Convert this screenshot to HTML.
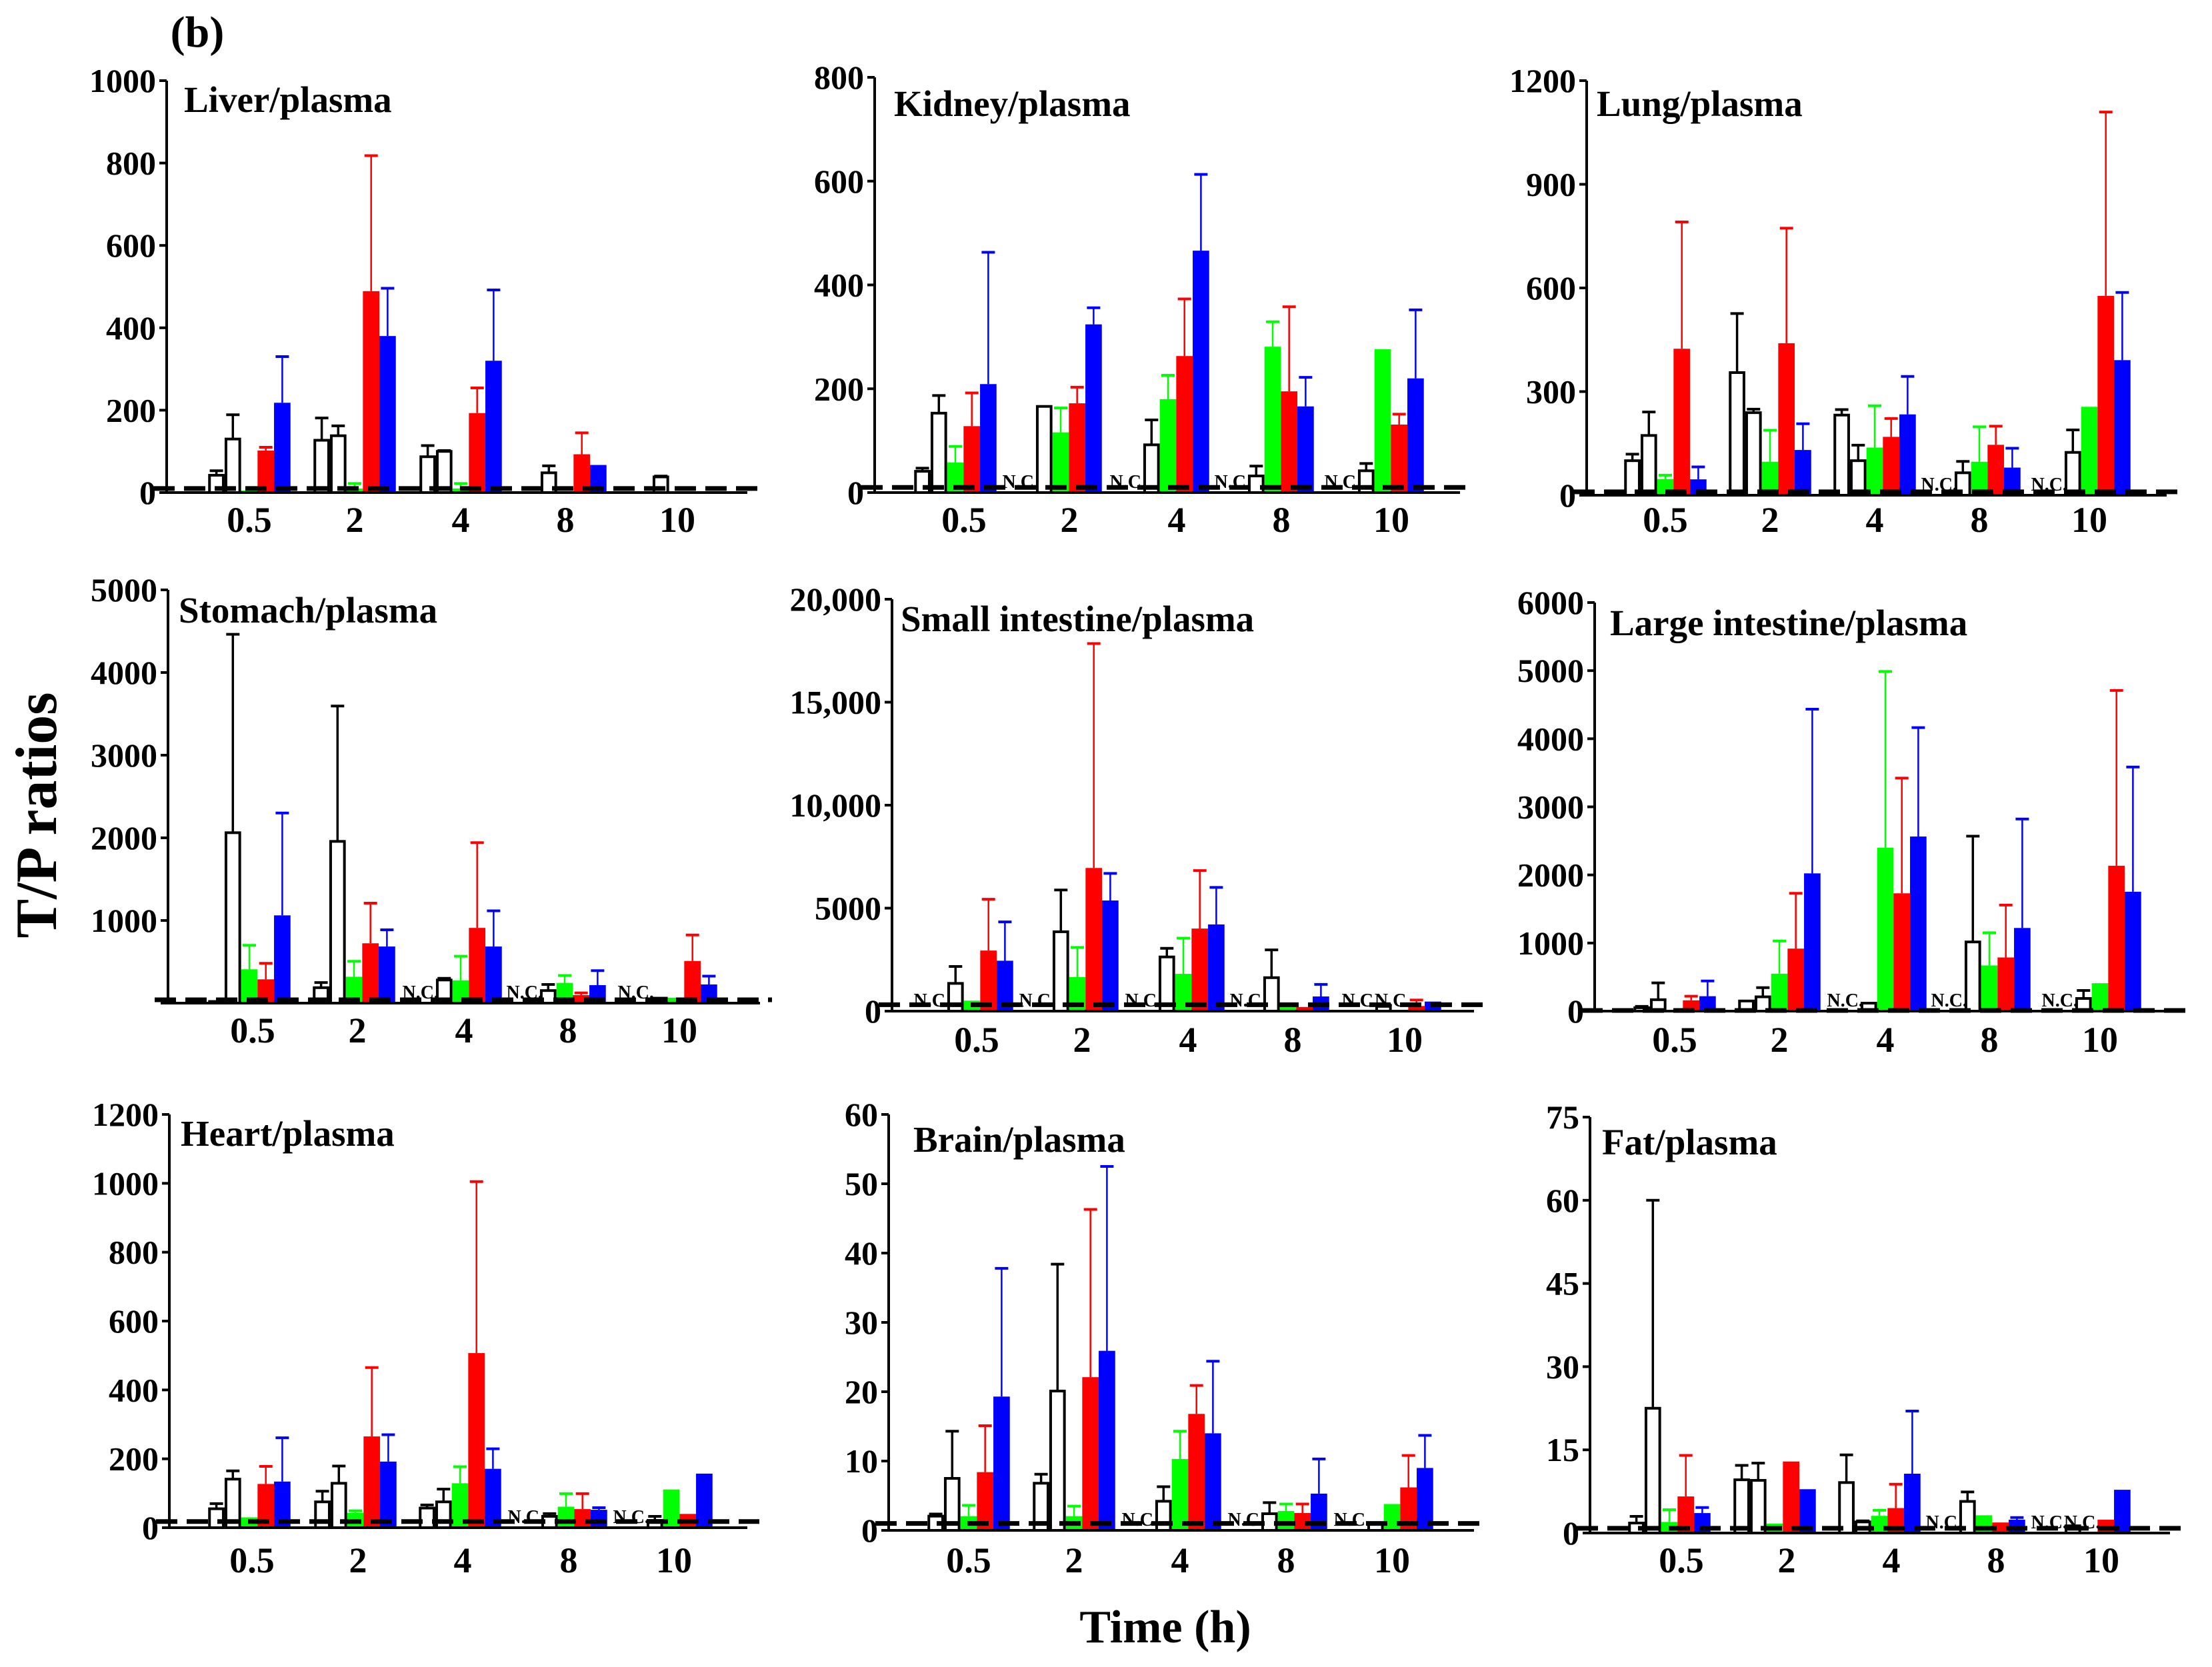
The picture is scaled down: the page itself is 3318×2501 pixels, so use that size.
<!DOCTYPE html>
<html><head><meta charset="utf-8"><style>
html,body{margin:0;padding:0;background:#fff;}
svg{display:block;font-family:"Liberation Serif","Times New Roman",serif;font-weight:bold;}
</style></head><body>
<svg id="fig" width="3318" height="2501" viewBox="0 0 3318 2501" xmlns="http://www.w3.org/2000/svg">
<text x="296" y="70" font-size="66" text-anchor="middle">(b)</text>
<text x="0" y="0" font-size="88" text-anchor="middle" transform="translate(84,1223) rotate(-90)">T/P ratios</text>
<text x="1748" y="2464" font-size="70" text-anchor="middle">Time (h)</text>
</svg>
<script>
const categories = ["0.5","2","4","8","10"];
const N = null;
// Liver
const liverW1=[42,127,87,N,N], liverW1e=[53,181,114,N,N];
const liverW2=[130,138,100,48,38], liverW2e=[189,162,102,65,40];
const liverG=[5,10,10,3,N], liverGe=[N,22,22,N,N];
const liverR=[102,489,193,93,N], liverRe=[110,818,254,145,N];
const liverB=[218,380,320,67,N], liverBe=[330,496,492,N,N];
const liverNC=[[],[],[],[],[]];
const liverTicks=["0","200","400","600","800","1000"];
// Kidney
const kidneyW1=[41,N,N,N,N], kidneyW1e=[47,N,N,N,N];
const kidneyW2=[153,166,92,32,42], kidneyW2e=[187,N,140,51,56];
const kidneyG=[58,116,180,281,276], kidneyGe=[89,163,226,329,N];
const kidneyR=[128,172,263,195,131], kidneyRe=[192,203,373,358,151];
const kidneyB=[209,324,466,166,220], kidneyBe=[463,356,613,222,352];
const kidneyNC=[[],[0],[0],[0],[0]];
const kidneyTicks=["0","200","400","600","800"];
// Lung
const lungW1=[100,355,232,N,N], lungW1e=[119,526,248,N,N];
const lungW2=[173,239,100,65,124], lungW2e=[241,249,145,98,189];
const lungG=[47,97,138,97,256], lungGe=[58,188,259,198,N];
const lungR=[424,440,169,146,577], lungRe=[791,773,222,200,1109];
const lungB=[46,131,234,80,391], lungBe=[82,207,344,136,587];
const lungNC=[[],[],[],[0],[0]];
const lungTicks=["0","300","600","900","1200"];
// Stomach
const stomachW1=[20,187,N,N,N], stomachW1e=[N,249,N,N,N];
const stomachW2=[2062,1957,280,152,60], stomachW2e=[4463,3595,300,226,N];
const stomachG=[409,319,276,245,66], stomachGe=[700,506,568,335,N];
const stomachR=[288,724,910,97,510], stomachRe=[482,1210,1942,124,825];
const stomachB=[1062,685,685,218,226], stomachBe=[2300,887,1117,393,327];
const stomachNC=[[],[],[0],[0],[0]];
const stomachTicks=["","1000","2000","3000","4000","5000"];
// Small intestine
const siW1=[N,N,N,N,N], siW1e=[N,N,N,N,N];
const siW2=[1347,3854,2631,1625,232], siW2e=[2167,5882,3050,2972,N];
const siG=[511,1656,1811,387,N], siGe=[N,3096,3545,N,N];
const siR=[2941,6950,4009,201,250], siRe=[5433,17848,6826,N,540];
const siB=[2446,5371,4210,712,464], siBe=[4334,6687,6006,1300,N];
const siNC=[[0],[0],[0],[0],[0,2]];
const siTicks=["0","5000","10,000","15,000","20,000"];
// Large intestine
const liW1=[50,149,N,N,N], liW1e=[70,N,N,N,N];
const liW2=[168,210,117,1016,186], liW2e=[415,345,N,2569,303];
const liG=[0,550,2401,671,410], liGe=[N,1030,4988,1151,N];
const liR=[159,918,1730,788,2135], liRe=[219,1730,3422,1557,4709];
const liB=[219,2023,2564,1221,1753], liBe=[443,4434,4163,2821,3585];
const liNC=[[],[],[0],[0],[0]];
const liTicks=["0","1000","2000","3000","4000","5000","6000"];
// Heart
const heartW1=[55,75,57,N,N], heartW1e=[70,106,66,N,N];
const heartW2=[141,129,75,33,21], heartW2e=[165,179,112,41,33];
const heartG=[30,43,129,61,111], heartGe=[N,49,177,99,N];
const heartR=[127,265,507,54,40], heartRe=[178,465,1005,99,N];
const heartB=[134,192,171,52,157], heartBe=[261,270,229,58,N];
const heartNC=[[],[],[],[0],[0]];
const heartTicks=["0","200","400","600","800","1000","1200"];
// Brain
const brainW1=[2.05,6.8,N,N,N], brainW1e=[2.35,8.1,N,N,N];
const brainW2=[7.5,20.1,4.2,2.4,1.0], brainW2e=[14.3,38.4,6.3,4.0,N];
const brainG=[2.05,2.05,10.3,2.8,3.8], brainGe=[3.6,3.5,14.3,3.8,N];
const brainR=[8.4,22.1,16.8,2.5,6.2], brainRe=[15.1,46.3,20.9,3.8,10.8];
const brainB=[19.3,25.9,14.0,5.3,9.0], brainBe=[37.8,52.5,24.4,10.3,13.7];
const brainNC=[[],[],[0],[0],[0]];
const brainTicks=["0","10","20","30","40","50","60"];
// Fat
const fatW1=[1.8,9.6,9.1,N,N], fatW1e=[3.0,12.2,14.1,N,N];
const fatW2=[22.5,9.5,2.0,5.7,1.3], fatW2e=[60,12.6,2.2,7.4,N];
const fatG=[2.0,1.7,3.1,3.2,N], fatGe=[4.2,N,4.1,N,N];
const fatR=[6.6,12.9,4.5,1.9,2.4], fatRe=[14.0,N,8.8,N,N];
const fatB=[3.6,7.9,10.7,2.4,7.8], fatBe=[4.6,N,22.0,2.8,N];
const fatNC=[[],[],[],[0],[0,2]];
const fatTicks=["0","15","30","45","60","75"];
// reference (dashed) line values
const refLevels=[10,10,10,40,310,10,18,1.0,0.86];

const panels=[
 {id:"liver",title:"Liver/plasma",ax:250,top:121,zero:739,end:1121,tx:276,ty:168,cx:[374,532,691,848,1016],lo:0,ly:779,s:[liverW1,liverW2,liverG,liverR,liverB],e:[liverW1e,liverW2e,liverGe,liverRe,liverBe],nc:liverNC,ticks:liverTicks},
 {id:"kidney",title:"Kidney/plasma",ax:1312,top:116,zero:739,end:2190,tx:1341,ty:174,cx:[1433,1591,1752,1909,2074],lo:13,ly:779,s:[kidneyW1,kidneyW2,kidneyG,kidneyR,kidneyB],e:[kidneyW1e,kidneyW2e,kidneyGe,kidneyRe,kidneyBe],nc:kidneyNC,ticks:kidneyTicks},
 {id:"lung",title:"Lung/plasma",ax:2380,top:121,zero:743,end:3250,tx:2395,ty:174,cx:[2498,2655,2812,2969,3134],lo:0,ly:779,s:[lungW1,lungW2,lungG,lungR,lungB],e:[lungW1e,lungW2e,lungGe,lungRe,lungBe],nc:lungNC,ticks:lungTicks},
 {id:"stomach",title:"Stomach/plasma",ax:252,top:885,zero:1505,end:1140,tx:268,ty:934,cx:[374,531,691,847,1014],lo:5,ly:1545,s:[stomachW1,stomachW2,stomachG,stomachR,stomachB],e:[stomachW1e,stomachW2e,stomachGe,stomachRe,stomachBe],nc:stomachNC,ticks:stomachTicks},
 {id:"small-intestine",title:"Small intestine/plasma",ax:1338,top:899,zero:1517,end:2211,tx:1351,ty:947,cx:[1458,1616,1775,1932,2100],lo:7,ly:1559,s:[siW1,siW2,siG,siR,siB],e:[siW1e,siW2e,siGe,siRe,siBe],nc:siNC,ticks:siTicks},
 {id:"large-intestine",title:"Large intestine/plasma",ax:2392,top:904,zero:1517,end:3268,tx:2415,ty:953,cx:[2512,2669,2828,2984,3150],lo:0,ly:1559,s:[liW1,liW2,liG,liR,liB],e:[liW1e,liW2e,liGe,liRe,liBe],nc:liNC,ticks:liTicks},
 {id:"heart",title:"Heart/plasma",ax:254,top:1672,zero:2292,end:1121,tx:271,ty:1719,cx:[374,533,690,849,1007],lo:4,ly:2340,s:[heartW1,heartW2,heartG,heartR,heartB],e:[heartW1e,heartW2e,heartGe,heartRe,heartBe],nc:heartNC,ticks:heartTicks},
 {id:"brain",title:"Brain/plasma",ax:1333,top:1672,zero:2296,end:2211,tx:1370,ty:1728,cx:[1453,1611,1770,1929,2088],lo:0,ly:2340,s:[brainW1,brainW2,brainG,brainR,brainB],e:[brainW1e,brainW2e,brainGe,brainRe,brainBe],nc:brainNC,ticks:brainTicks},
 {id:"fat",title:"Fat/plasma",ax:2385,top:1676,zero:2300,end:3255,tx:2403,ty:1732,cx:[2504,2662,2819,2976,3134],lo:18,ly:2340,s:[fatW1,fatW2,fatG,fatR,fatB],e:[fatW1e,fatW2e,fatGe,fatRe,fatBe],nc:fatNC,ticks:fatTicks}
];
const colors=["#fff","#fff","#00ff00","#ff0000","#0000ff"];
const seriesNames=["white-1","white-2","green","red","blue"];
const NS="http://www.w3.org/2000/svg";
const svg=document.getElementById("fig");
const BW=24.7;
function mk(tag,attrs,parent){const el=document.createElementNS(NS,tag);for(const k in attrs)el.setAttribute(k,attrs[k]);parent.appendChild(el);return el;}
panels.forEach((p,pi)=>{
  const g=mk("g",{},svg);
  
  
  const maxV=parseFloat(p.ticks[p.ticks.length-1].replace(/,/g,''));
  const y=v=>p.zero-v/maxV*(p.zero-p.top);
  p.ticks.forEach((t,i)=>{
    const v=maxV*i/(p.ticks.length-1);
    const tl=mk("line",{x1:p.ax-11,x2:p.ax,y1:y(v),y2:y(v),stroke:"#000","stroke-width":4},g);
    
    
    if(t!==""){
      const tx=mk("text",{x:p.ax-16,y:y(v)+17,"font-size":50,"text-anchor":"end"},g);
      
      
      tx.textContent=t;
    }
  });
  p.cx.forEach((c,gi)=>{
    const x0=c-2.5*BW;
    for(let si=0;si<5;si++){
      const v=p.s[si][gi];
      if(v===null)continue;
      const x=x0+si*BW;
      const isW=si<2;
      const r=mk("rect",{x:isW?x+2:x,y:y(v),width:isW?BW-4:BW,height:Math.max(p.zero-y(v),0),fill:colors[si],stroke:isW?"#000":"none","stroke-width":isW?4:0},g);
      
      
      const ev=p.e[si][gi];
      if(ev!==null){
        const col=isW?"#000":colors[si];
        const xm=x+BW/2;
        const el=mk("line",{x1:xm,x2:xm,y1:y(v),y2:y(ev),stroke:col,"stroke-width":isW?3.5:2.5},g);
        
        
        const cap=mk("line",{x1:xm-10,x2:xm+10,y1:y(ev),y2:y(ev),stroke:col,"stroke-width":4},g);
        
        
      }
    }
    p.nc[gi].forEach(slot=>{
      const t=mk("text",{x:x0+(slot+1)*BW+4,y:p.zero-7,"font-size":28,"text-anchor":"end"},g);
      
      
      t.textContent="N.C.";
    });
    const lab=mk("text",{x:c+p.lo,y:p.ly+19,"font-size":54,"text-anchor":"middle"},g);
    
    
    lab.textContent=categories[gi];
  });
  const ya=mk("line",{x1:p.ax,x2:p.ax,y1:p.top,y2:p.zero+2,stroke:"#000","stroke-width":4},g);
  
  
  const xa=mk("line",{x1:p.ax-2,x2:p.end,y1:p.zero,y2:p.zero,stroke:"#000","stroke-width":4},g);
  
  
  const ry=y(refLevels[pi]);
  const dl=mk("line",{x1:p.ax-20,x2:p.end+18,y1:ry,y2:ry,stroke:"#000","stroke-width":7,"stroke-dasharray":"32 14"},g);
  
  
  const tt=mk("text",{x:p.tx,y:p.ty,"font-size":55},g);
  
  
  tt.textContent=p.title;
});
</script>
</body></html>
